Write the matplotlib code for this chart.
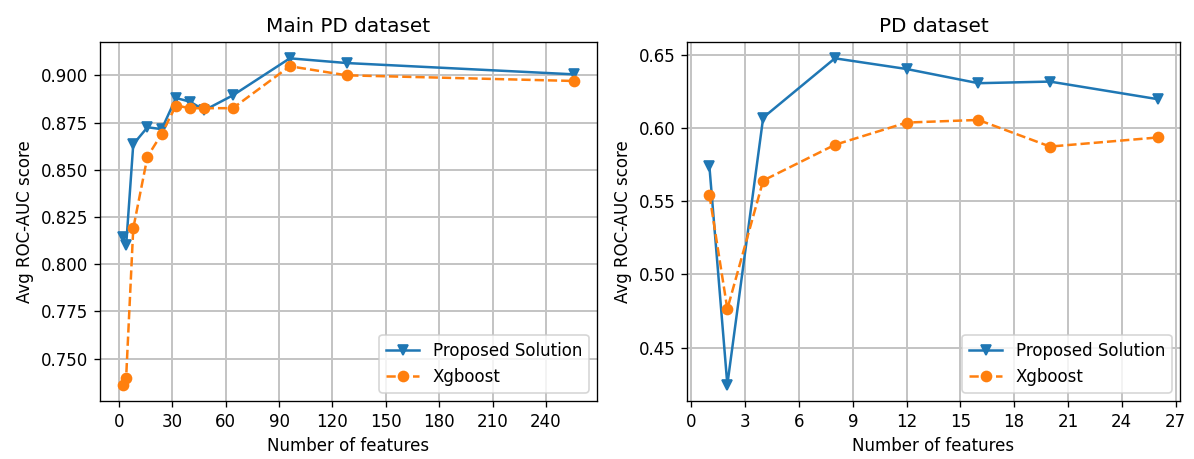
import matplotlib
matplotlib.use("Agg")
import matplotlib.pyplot as plt
from matplotlib.ticker import MultipleLocator, FormatStrFormatter

# Main PD dataset
main_features = [2, 4, 8, 16, 24, 32, 40, 48, 64, 96, 128, 256]
main_proposed = [0.8144, 0.8100, 0.8635, 0.8725, 0.8715, 0.8880, 0.8860, 0.8815, 0.8894, 0.9090, 0.9065, 0.9005]
main_xgboost = [0.7362, 0.7400, 0.8190, 0.8570, 0.8690, 0.8840, 0.8826, 0.8826, 0.8826, 0.9048, 0.9000, 0.8970]

# PD dataset
pd_features = [1, 2, 4, 8, 12, 16, 20, 26]
pd_proposed = [0.5738, 0.4247, 0.6072, 0.6477, 0.6404, 0.6307, 0.6318, 0.6198]
pd_xgboost = [0.5544, 0.4764, 0.5642, 0.5886, 0.6038, 0.6056, 0.5874, 0.5936]

fig = plt.figure(figsize=(1194 / 120, 459 / 120), dpi=120)
ax1 = fig.add_axes([100 / 1194, 1 - 401 / 459, 497 / 1194, 359 / 459])
ax2 = fig.add_axes([687 / 1194, 1 - 401 / 459, 493 / 1194, 359 / 459])

panels = [
    (ax1, main_features, main_proposed, main_xgboost, "Main PD dataset", 30, 0.025, "%.3f"),
    (ax2, pd_features, pd_proposed, pd_xgboost, "PD dataset", 3, 0.05, "%.2f"),
]

for ax, x, prop, xgb, title, xstep, ystep, yfmt in panels:
    ax.plot(x, prop, "-v", color="#1f77b4", label="Proposed Solution")
    ax.plot(x, xgb, "--o", color="#ff7f0e", label="Xgboost")
    ax.xaxis.set_major_locator(MultipleLocator(xstep))
    ax.yaxis.set_major_locator(MultipleLocator(ystep))
    ax.yaxis.set_major_formatter(FormatStrFormatter(yfmt))
    ax.grid(True, color="#c4c4c4", linewidth=1.2)
    ax.set_axisbelow(True)
    ax.set_title(title)
    ax.set_xlabel("Number of features")
    ax.set_ylabel("Avg ROC-AUC score")
    ax.legend(loc="lower right")

fig.savefig("out.png", dpi=120)
